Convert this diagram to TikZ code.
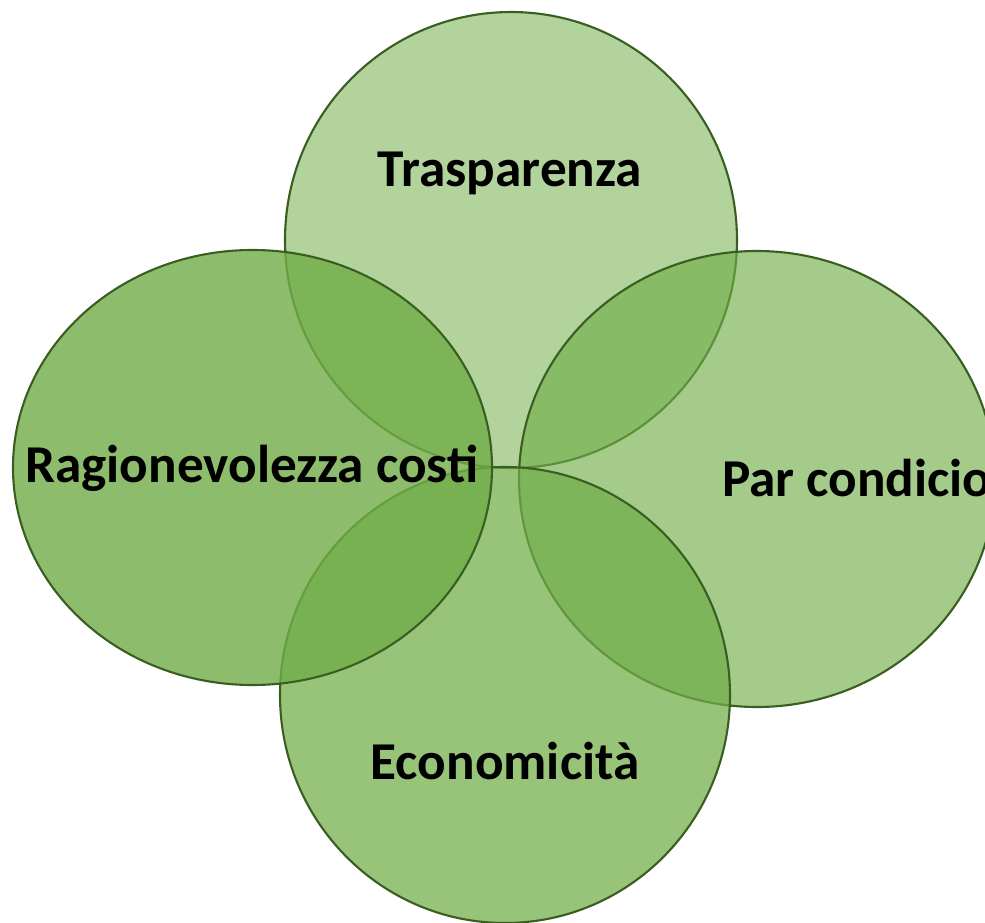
\documentclass[tikz,border=0pt]{standalone}
\usepackage{fontspec}
\setmainfont{Carlito}

\definecolor{vgreen}{HTML}{70AD47}
\definecolor{vdark}{HTML}{3A5E22}

\begin{document}
\begin{tikzpicture}[x=0.02cm, y=-0.02cm,
        blob/.style={fill=vgreen, fill opacity=#1, draw=vdark, line width=1.2pt},
        word/.style={font=\bfseries\fontsize{30.3}{36}\selectfont, anchor=base}]
        \useasboundingbox (0,0) rectangle (985,923);
        \clip (0,0) rectangle (985,923);
        % top, right, bottom, left
        \def\Blobs{511/240/226/228/0.54, 757/479/238/228/0.63, 505/695/225/228/0.72, 252.5/467.5/239.5/217.5/0.8}
        \foreach \cx/\cy/\rx/\ry/\op in \Blobs
        {
            \draw[blob=\op] (\cx,\cy) ellipse [x radius=\rx, y radius=\ry];
        }
        \node[word] (tras) at (510,186) {Trasparenza};
        \node[word] (ragi) at (252,482) {Ragionevolezza costi};
        \node[word, anchor=base west] (parc) at (716,496) {Par condicio};
        \node[word] (econ) at (505,779) {Economicità};
    \end{tikzpicture}
\end{document}
